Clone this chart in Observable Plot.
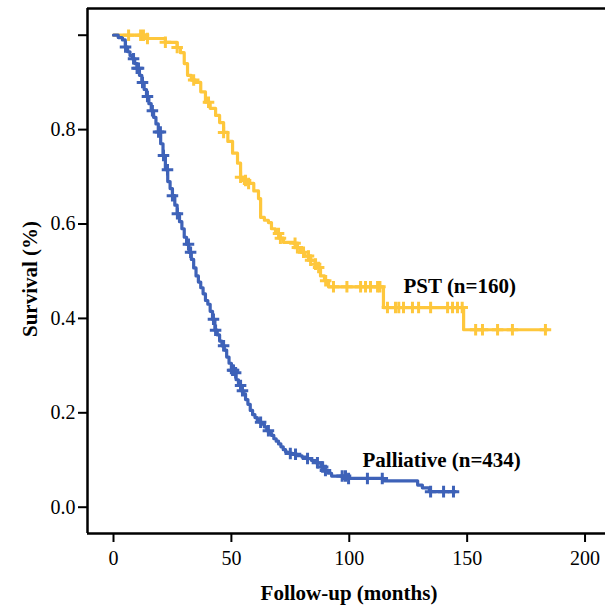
<!DOCTYPE html>
<html><head><meta charset="utf-8">
<script src="https://cdn.jsdelivr.net/npm/d3@7"></script>
<script src="https://cdn.jsdelivr.net/npm/@observablehq/plot@0.6"></script>
<style>body{margin:0;background:#fff;} svg{display:block}</style>
</head><body><div id="chart"></div>
<script>
// PST group: Kaplan-Meier step points (months, survival)
const pstTime = [0, 14.4, 22, 27, 28.4, 30, 31.4, 33, 34.8, 37, 39, 41, 43.3, 45, 46.7, 48.5, 50.5, 52.6, 53.9, 55.5, 57.3, 59.5, 61.5, 62.4, 64, 65.7, 67, 68.7, 70.5, 72.1, 76.4, 78, 79.3, 81, 83.6, 85.5, 87, 87.8, 89.5, 91.2, 114.5, 148.5, 184];
const pstSurv = [1.0, 0.993, 0.985, 0.974, 0.963, 0.94, 0.915, 0.905, 0.9, 0.88, 0.858, 0.845, 0.83, 0.815, 0.794, 0.775, 0.75, 0.729, 0.699, 0.692, 0.686, 0.67, 0.654, 0.614, 0.608, 0.603, 0.59, 0.58, 0.57, 0.561, 0.559, 0.55, 0.54, 0.532, 0.523, 0.515, 0.508, 0.49, 0.48, 0.467, 0.423, 0.376, 0.376];
const pstCensor = [6.4, 11.5, 12.7, 14.4, 22, 27, 34, 40.3, 46.7, 53.9, 56, 57.3, 70, 70.8, 77, 78, 80.6, 82.7, 83.6, 85.7, 87, 90, 93.3, 99, 104.8, 106.9, 109, 112, 113, 116.2, 119.6, 121, 123, 126.8, 129.4, 134.5, 141.7, 143.8, 145.9, 147.9, 153.6, 156.5, 162.9, 169.2, 183.2];

// Palliative group
const palTime = [0, 2, 3.8, 5, 6, 7, 8, 9, 10, 11, 12, 13, 14, 15, 16, 17, 18, 19, 20, 21, 22, 23, 24, 25, 26, 27, 28, 29, 30, 31, 32, 33, 34, 35, 36, 37, 38, 39, 40, 41, 42, 43, 44, 45, 46, 47, 48, 49, 50, 51, 52, 53, 54, 55, 56, 57, 58, 59, 60, 61, 62, 63, 64, 65, 66, 67, 68, 69, 70, 71, 72, 73, 74, 76, 78, 80, 82, 84, 86, 88, 89, 91, 92.5, 98.5, 114.5, 129, 131, 134, 145];
const palSurv = [1.0, 0.995, 0.99, 0.975, 0.965, 0.957, 0.95, 0.94, 0.93, 0.915, 0.9, 0.885, 0.87, 0.855, 0.84, 0.826, 0.812, 0.795, 0.77, 0.745, 0.715, 0.69, 0.675, 0.66, 0.64, 0.622, 0.605, 0.59, 0.572, 0.557, 0.54, 0.525, 0.507, 0.49, 0.477, 0.465, 0.452, 0.438, 0.43, 0.415, 0.398, 0.375, 0.365, 0.352, 0.342, 0.333, 0.318, 0.305, 0.29, 0.285, 0.27, 0.258, 0.247, 0.24, 0.228, 0.218, 0.205, 0.196, 0.19, 0.185, 0.18, 0.176, 0.17, 0.162, 0.157, 0.152, 0.145, 0.14, 0.134, 0.128, 0.122, 0.117, 0.114, 0.112, 0.109, 0.106, 0.103, 0.099, 0.094, 0.085, 0.078, 0.072, 0.066, 0.061, 0.056, 0.047, 0.041, 0.033, 0.033];
const palCensor = [5.1, 8.5, 10, 10.6, 12.3, 14.4, 16.5, 19.1, 19.9, 21.2, 22.9, 25, 27.1, 31.8, 32.7, 42.4, 43.3, 46.7, 50.5, 50.9, 51.8, 53.9, 54.7, 62.4, 65.7, 75, 77.2, 82.3, 86.5, 88.7, 89.9, 97, 98.4, 99.7, 107.7, 114, 134.5, 140, 144.2];

const xTicks = [0, 50, 100, 150, 200];
const yTicks = [0, 0.2, 0.4, 0.6, 0.8, 1.0];
const groupLabels = ["PST (n=160)", "Palliative (n=434)"];
const labelTime = [123, 105.6];
const labelSurv = [0.468, 0.099];
const xDomain = [-11.03, 210.8];
const yDomain = [-0.0557, 1.0566];
const xTitle = "Follow-up (months)";
const yTitle = "Survival (%)";

const PST_COLOR = "#FEC73C";
const PAL_COLOR = "#3E62B8";

const steps = (t, s) => t.map((d, i) => ({time: d, surv: s[i]}));
const survAt = (t, s, c) => { let v = s[0]; for (let i = 0; i < t.length; i++) if (t[i] <= c) v = s[i]; return v; };
const censors = (t, s, c) => c.map(d => ({time: d, surv: survAt(t, s, d)}));

const pst = steps(pstTime, pstSurv);
const pal = steps(palTime, palSurv);
const labels = groupLabels.map((l, i) => ({label: l, time: labelTime[i], surv: labelSurv[i]}));

const chart = Plot.plot({
  width: 605, height: 608,
  marginLeft: 87, marginRight: -5, marginTop: 8, marginBottom: 75,
  style: {fontFamily: "'Liberation Serif', 'Times New Roman', serif", fontSize: "20px", color: "black", background: "white"},
  x: {domain: xDomain},
  y: {domain: yDomain},
  marks: [
    Plot.ruleX([xDomain[0]], {stroke: "black", strokeWidth: 2.5}),
    Plot.ruleY([yDomain[0]], {stroke: "black", strokeWidth: 2.5}),
    Plot.ruleY([yDomain[1]], {stroke: "black", strokeWidth: 2.5}),
    Plot.axisX(xTicks, {tickSize: 9, tickPadding: 8, strokeWidth: 2, fontSize: 20, label: null}),
    Plot.axisY(yTicks, {tickSize: 9, tickPadding: 3, strokeWidth: 2, fontSize: 20, label: null,
      tickFormat: d => d === 1 ? "" : d3.format(".1f")(d)}),
    Plot.line(pst, {x: "time", y: "surv", curve: "step-after", stroke: PST_COLOR, strokeWidth: 3.2}),
    Plot.line(pal, {x: "time", y: "surv", curve: "step-after", stroke: PAL_COLOR, strokeWidth: 3.2}),
    Plot.dot(censors(pstTime, pstSurv, pstCensor), {x: "time", y: "surv", symbol: "plus", r: 3.8, stroke: PST_COLOR, strokeWidth: 3}),
    Plot.dot(censors(palTime, palSurv, palCensor), {x: "time", y: "surv", symbol: "plus", r: 3.8, stroke: PAL_COLOR, strokeWidth: 3}),
    Plot.text(labels, {x: "time", y: "surv", text: "label", textAnchor: "start", fontWeight: "bold", fontSize: 21}),
    Plot.text([xTitle], {frameAnchor: "bottom", dy: 66, fontWeight: "bold", fontSize: 21}),
    Plot.text([yTitle], {frameAnchor: "left", textAnchor: "middle", dx: -57, dy: 8, rotate: -90, fontWeight: "bold", fontSize: 21})
  ]
});
document.getElementById("chart").appendChild(chart);
</script>
</body></html>
